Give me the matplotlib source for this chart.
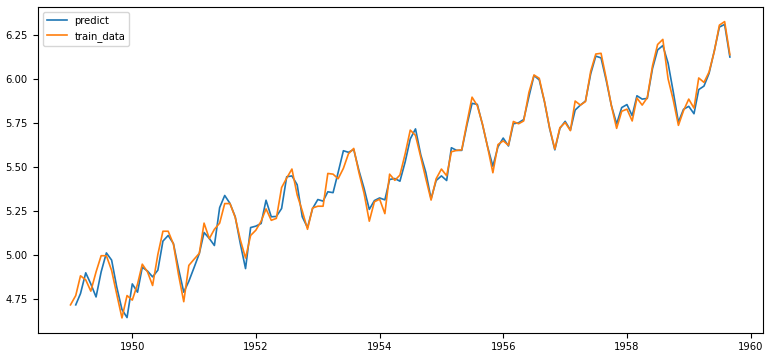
import numpy as np
import pandas as pd
import matplotlib
matplotlib.use("Agg")
import matplotlib.pyplot as plt

# log(passengers) training data, monthly from 1949-01
train_start = "1949-01-01"
train_values = [
    4.718, 4.771, 4.883, 4.860, 4.796, 4.905, 4.997, 4.997, 4.913, 4.779, 4.644, 4.771,
    4.745, 4.836, 4.949, 4.905, 4.828, 5.004, 5.136, 5.136, 5.063, 4.890, 4.736, 4.942,
    4.977, 5.011, 5.182, 5.094, 5.147, 5.182, 5.293, 5.293, 5.215, 5.088, 4.984, 5.112,
    5.142, 5.193, 5.263, 5.198, 5.209, 5.384, 5.438, 5.489, 5.342, 5.252, 5.147, 5.268,
    5.278, 5.278, 5.464, 5.460, 5.434, 5.493, 5.576, 5.606, 5.468, 5.352, 5.193, 5.303,
    5.318, 5.236, 5.460, 5.425, 5.455, 5.576, 5.710, 5.680, 5.557, 5.434, 5.313, 5.434,
    5.489, 5.451, 5.587, 5.595, 5.598, 5.753, 5.897, 5.849, 5.743, 5.613, 5.468, 5.628,
    5.649, 5.624, 5.759, 5.746, 5.762, 5.924, 6.023, 6.004, 5.872, 5.724, 5.602, 5.724,
    5.753, 5.707, 5.875, 5.852, 5.872, 6.045, 6.142, 6.146, 6.001, 5.849, 5.720, 5.817,
    5.829, 5.762, 5.892, 5.852, 5.894, 6.075, 6.196, 6.225, 6.001, 5.883, 5.737, 5.820,
    5.886, 5.835, 6.006, 5.981, 6.040, 6.157, 6.306, 6.326, 6.138,
]

# model prediction, monthly from 1949-02
predict_start = "1949-02-01"
predict_values = [
    4.718, 4.782, 4.900, 4.837, 4.763, 4.905, 5.013, 4.972, 4.820, 4.692, 4.646,
    4.837, 4.790, 4.932, 4.910, 4.877, 4.915, 5.080, 5.112, 5.066, 4.924, 4.790, 4.852,
    4.930, 5.010, 5.129, 5.095, 5.055, 5.270, 5.339, 5.294, 5.218, 5.066, 4.924, 5.157,
    5.165, 5.180, 5.312, 5.218, 5.220, 5.265, 5.445, 5.450, 5.400, 5.218, 5.157, 5.265,
    5.316, 5.307, 5.360, 5.355, 5.470, 5.593, 5.584, 5.600, 5.480, 5.380, 5.260, 5.310,
    5.325, 5.314, 5.430, 5.435, 5.420, 5.530, 5.660, 5.717, 5.570, 5.470, 5.320, 5.424,
    5.450, 5.424, 5.610, 5.595, 5.595, 5.740, 5.862, 5.856, 5.740, 5.615, 5.505, 5.615,
    5.665, 5.620, 5.746, 5.752, 5.770, 5.900, 6.020, 5.995, 5.870, 5.720, 5.598, 5.720,
    5.760, 5.710, 5.824, 5.852, 5.875, 6.030, 6.130, 6.120, 5.990, 5.850, 5.745, 5.838,
    5.855, 5.792, 5.905, 5.886, 5.890, 6.060, 6.165, 6.190, 6.090, 5.930, 5.755, 5.828,
    5.845, 5.803, 5.940, 5.960, 6.032, 6.160, 6.295, 6.310, 6.125,
]

train = pd.Series(train_values,
                  index=pd.date_range(train_start, periods=len(train_values), freq="MS"))
predict = pd.Series(predict_values,
                    index=pd.date_range(predict_start, periods=len(predict_values), freq="MS"))

fig = plt.figure(figsize=(7.69, 3.57), dpi=100)
ax = fig.add_axes([0.0488, 0.068, 0.9432, 0.913])

ax.plot(predict.index, predict.values, color="#1f77b4", linewidth=1.2, label="predict")
ax.plot(train.index, train.values, color="#ff7f0e", linewidth=1.2, label="train_data")

ax.set_yticks([4.75, 5.00, 5.25, 5.50, 5.75, 6.00, 6.25])
ax.tick_params(labelsize=7.2)
ax.legend(loc="upper left", fontsize=7.2)

fig.savefig("out.png", dpi=100)
